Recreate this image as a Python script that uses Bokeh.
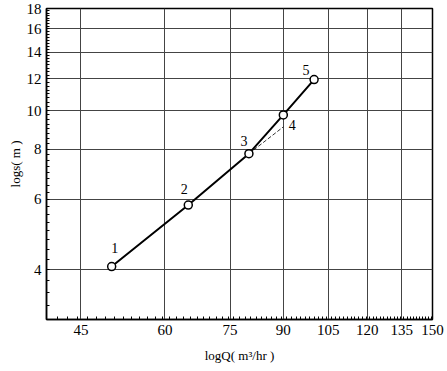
from bokeh.plotting import figure
from bokeh.models import Range1d, FixedTicker, PrintfTickFormatter, ColumnDataSource
from bokeh.core.properties import value
from bokeh.embed import file_html
from bokeh.resources import INLINE

# data
Q = [50, 65, 80, 90, 100]
S = [4.07, 5.8, 7.8, 9.75, 11.95]
point_labels = ["1", "2", "3", "4", "5"]
dash_Q = [80, 90]
dash_S = [7.8, 9.1]
x_ticks = [45, 60, 75, 90, 105, 120, 135, 150]
y_ticks = [4, 6, 8, 10, 12, 14, 16, 18]
x_minor = [40 + 1.5 * i for i in range(74)]
y_minor = [3 + 0.25 * i for i in range(61)]

FONT = "Liberation Serif"

p = figure(width=446, height=368, x_axis_type="log", y_axis_type="log",
           x_range=Range1d(40, 150), y_range=Range1d(3, 18),
           output_backend="svg", toolbar_location=None,
           min_border_top=8, min_border_left=46, min_border_right=14, min_border_bottom=49)

p.outline_line_color = "black"
p.outline_line_width = 1.5
p.background_fill_color = "white"
p.border_fill_color = "white"

p.xaxis.ticker = FixedTicker(ticks=x_ticks, minor_ticks=x_minor)
p.yaxis.ticker = FixedTicker(ticks=y_ticks, minor_ticks=y_minor)
p.xaxis.formatter = PrintfTickFormatter(format="%d")
p.yaxis.formatter = PrintfTickFormatter(format="%d")

for ax in (p.xaxis, p.yaxis):
    ax.axis_line_color = "black"
    ax.axis_line_width = 1.5
    ax.major_tick_in = 0
    ax.major_tick_out = 0
    ax.minor_tick_in = 3
    ax.minor_tick_out = 0
    ax.minor_tick_line_color = "black"
    ax.major_label_text_font = FONT
    ax.major_label_text_font_size = "15px"
    ax.major_label_text_color = "#000000"
    ax.axis_label_text_font = FONT
    ax.axis_label_text_font_size = "13px"
    ax.axis_label_text_font_style = "normal"
    ax.axis_label_text_color = "#000000"

p.xaxis.axis_label = "logQ( m³/hr )"
p.yaxis.axis_label = "logs( m )"
p.xaxis.major_label_standoff = 5
p.xaxis.axis_label_standoff = 10
p.yaxis.major_label_standoff = 5
p.yaxis.axis_label_standoff = 1

p.xgrid.ticker = FixedTicker(ticks=x_ticks)
p.ygrid.ticker = FixedTicker(ticks=y_ticks)
p.grid.grid_line_color = "#444444"
p.grid.grid_line_width = 1

src = ColumnDataSource(dict(x=Q, y=S, t=point_labels,
                            dx=[3, -4, -5, 9, -8], dy=[-19, -16, -13, 10, -10]))

p.line(dash_Q, dash_S, line_color="black", line_width=0.8, line_dash="4 2")
p.line("x", "y", source=src, line_color="black", line_width=2)
p.scatter("x", "y", source=src, marker="circle", size=8, fill_color="white",
          line_color="black", line_width=1.5)
p.text("x", "y", text="t", source=src, x_offset="dx", y_offset="dy",
       text_font=value(FONT), text_font_size="14px", text_color="#000000",
       text_align="center", text_baseline="middle")

open("out.html", "w").write(file_html(p, INLINE))
